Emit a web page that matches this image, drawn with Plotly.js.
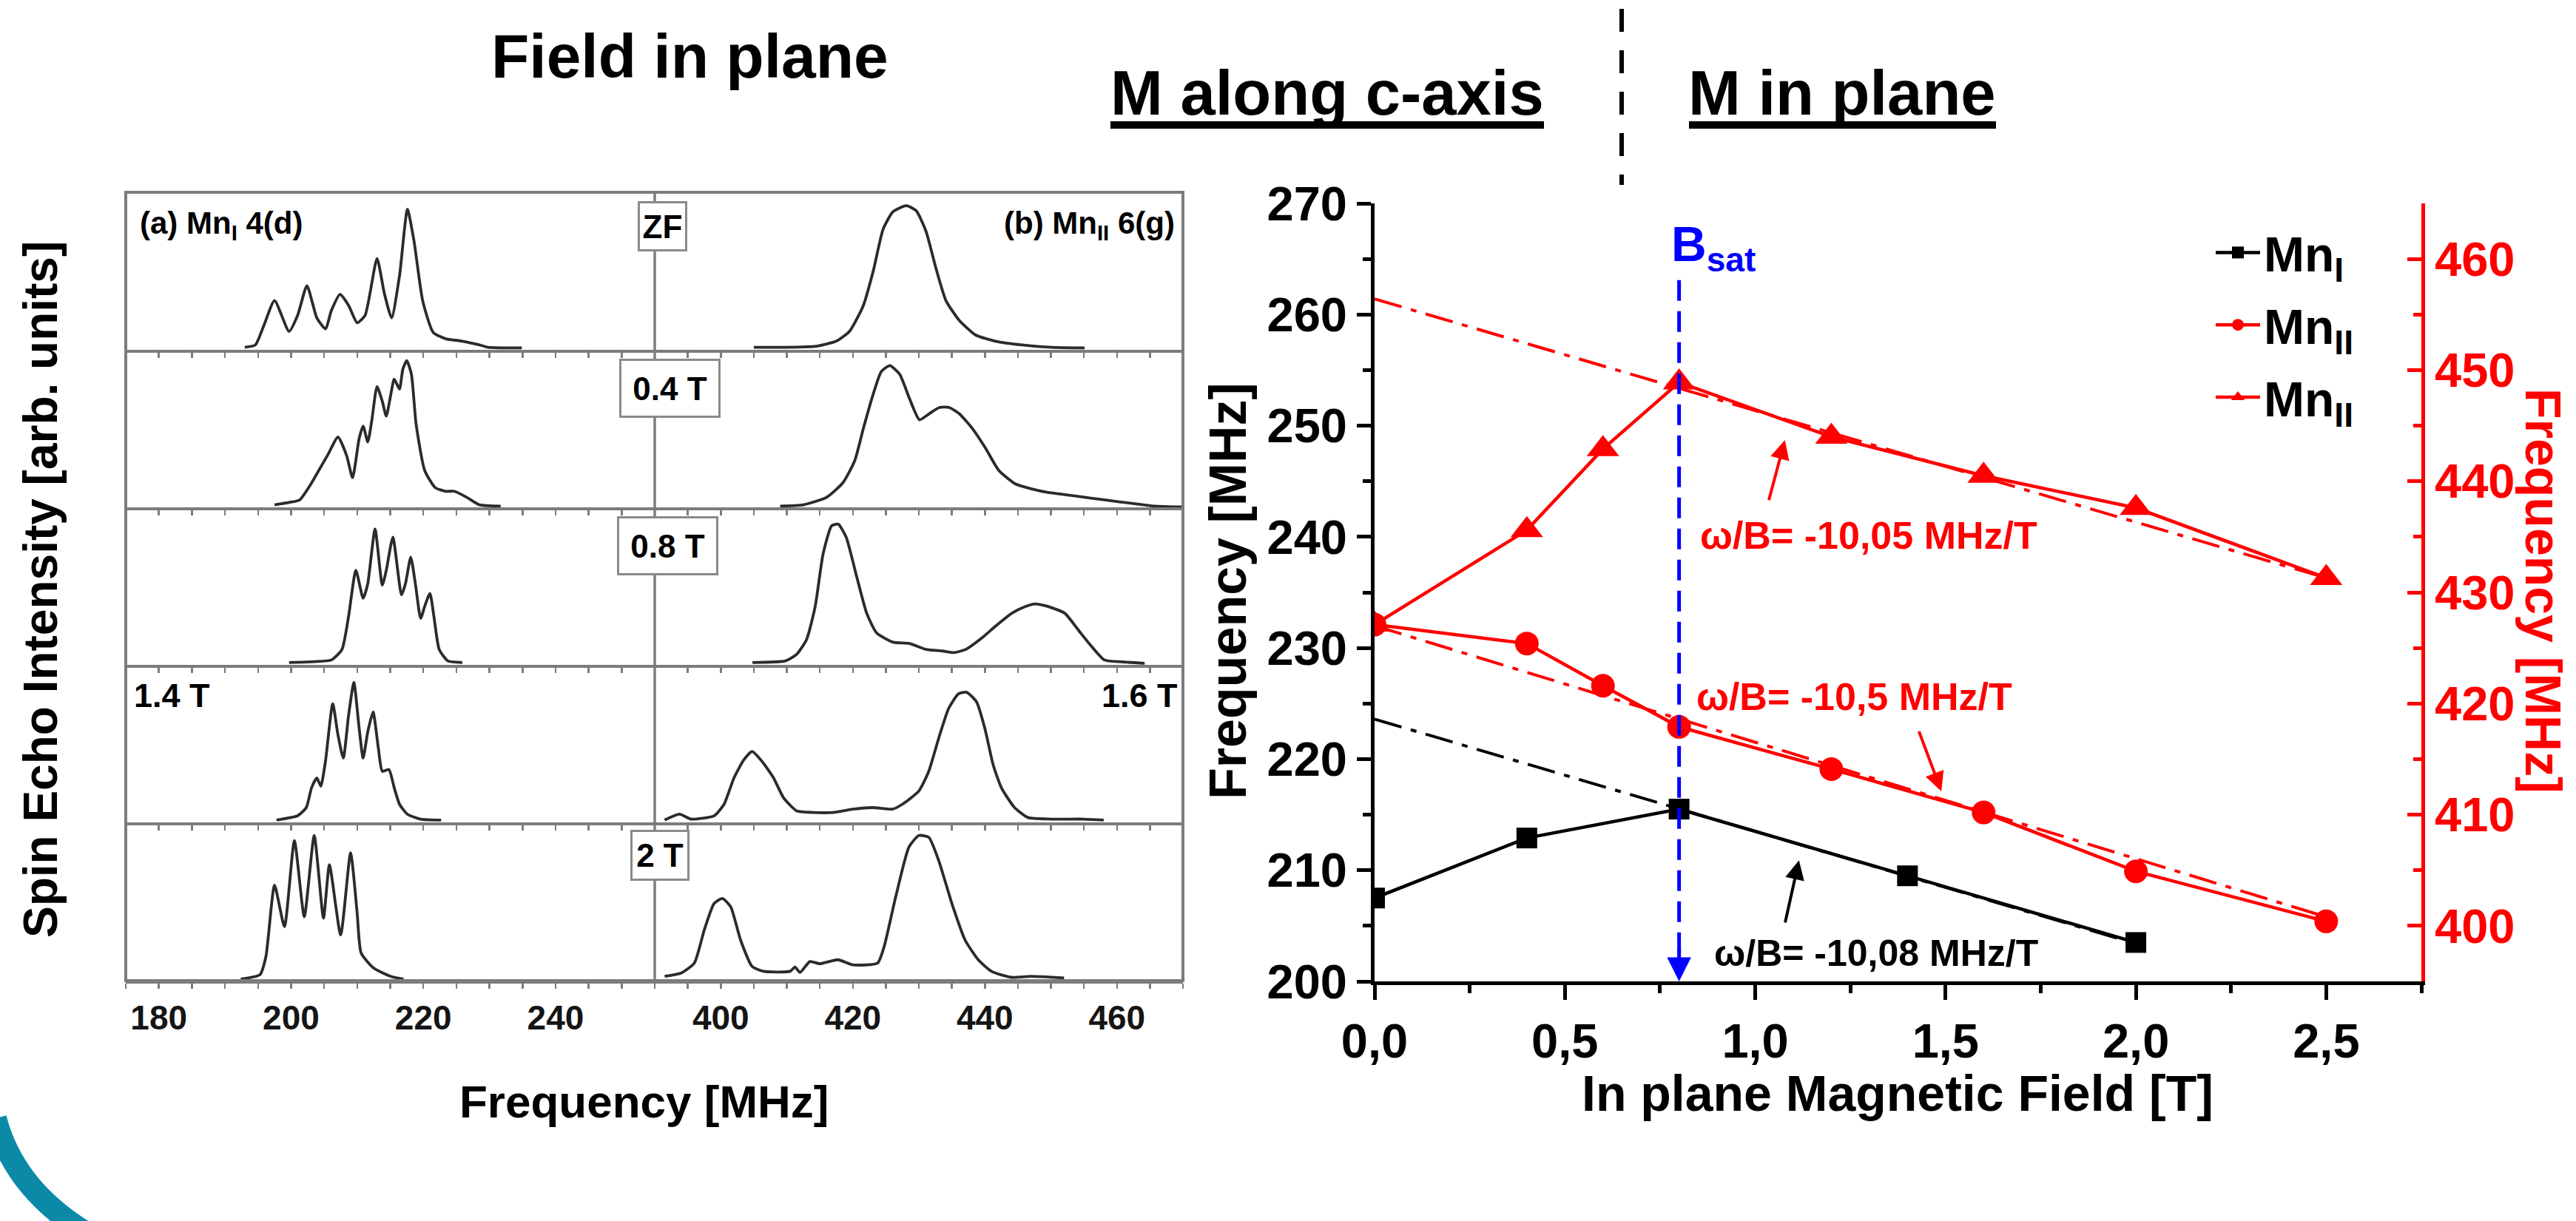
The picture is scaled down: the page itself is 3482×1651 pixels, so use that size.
<!DOCTYPE html>
<html><head><meta charset="utf-8">
<script src="https://cdn.plot.ly/plotly-3.0.1.min.js"></script>
<style>html,body{margin:0;padding:0;background:#fff;}#chart{width:3482px;height:1651px;}</style>
</head><body><div id="chart"></div>
<script>
// ================= DATA =================
// Left panel: spin-echo spectra, frequency [MHz] and intensity (normalised to row height)
const zfMnIFreq = [193.0,194.6,195.9,197.5,199.7,201.0,202.4,203.9,205.2,206.1,207.4,208.7,210.0,211.2,213.0,214.1,215.2,216.4,217.6,218.6,219.9,221.5,223.4,225.9,228.5,229.8,234.9];
const zfMnIInt  = [0.016,0.031,0.156,0.313,0.117,0.219,0.407,0.203,0.133,0.250,0.352,0.282,0.172,0.219,0.579,0.360,0.203,0.469,0.892,0.689,0.313,0.110,0.070,0.055,0.031,0.016,0.012];
const zfMnIIFreq = [405.0,409.5,414.5,417.5,419.5,421.6,423.1,424.6,426.1,428.1,429.6,431.1,432.6,434.1,436.1,438.6,441.6,445.6,450.1,455.1];
const zfMnIIInt  = [0.016,0.016,0.023,0.055,0.117,0.282,0.501,0.767,0.877,0.915,0.883,0.751,0.516,0.313,0.188,0.094,0.055,0.031,0.016,0.012];

const t04MnIFreq = [197.5,199.7,201.3,202.9,204.2,205.5,207.1,208.4,209.3,210.3,210.9,211.6,212.2,213.0,213.8,214.4,215.1,215.6,216.4,216.9,217.5,218.2,218.9,220.2,221.8,223.4,224.7,226.6,228.5,231.7];
const t04MnIInt  = [0.016,0.031,0.047,0.141,0.235,0.329,0.446,0.329,0.188,0.438,0.516,0.415,0.548,0.767,0.673,0.579,0.720,0.814,0.751,0.876,0.931,0.845,0.532,0.235,0.125,0.102,0.102,0.063,0.016,0.008];
const t04MnIIFreq = [409.0,412.5,416.0,418.5,420.3,421.6,423.1,424.3,425.6,427.1,428.6,430.1,431.6,433.1,434.6,436.1,438.1,440.1,442.1,444.6,447.1,449.6,454.1,458.1,462.7,465.7,470.0];
const t04MnIIInt  = [0.008,0.016,0.063,0.156,0.297,0.501,0.720,0.861,0.900,0.845,0.689,0.556,0.595,0.634,0.634,0.595,0.501,0.376,0.235,0.149,0.117,0.094,0.070,0.047,0.023,0.008,0.003];

const t08MnIFreq = [199.7,203.6,206.1,207.7,208.7,209.8,210.9,211.6,212.7,213.8,214.4,215.4,216.7,217.3,218.1,218.8,219.6,220.2,221.0,221.6,222.4,223.7,225.9];
const t08MnIInt  = [0.015,0.021,0.031,0.098,0.308,0.600,0.423,0.515,0.862,0.506,0.600,0.810,0.444,0.515,0.684,0.515,0.295,0.370,0.454,0.308,0.098,0.025,0.015];
const t08MnIIFreq = [404.8,409.8,411.5,413.0,414.3,415.5,416.8,417.8,419.0,420.6,422.1,423.6,426.1,428.6,431.1,433.6,435.3,437.1,439.6,441.6,444.1,446.1,447.6,449.6,452.1,454.1,455.9,458.1,460.7,464.2];
const t08MnIIInt  = [0.015,0.025,0.067,0.161,0.370,0.705,0.883,0.893,0.810,0.558,0.328,0.203,0.144,0.136,0.098,0.088,0.078,0.098,0.172,0.245,0.328,0.370,0.387,0.370,0.328,0.224,0.130,0.031,0.019,0.010];

const t14MnIFreq = [197.8,201.0,202.3,203.1,203.9,204.5,205.2,206.3,207.1,207.9,208.7,209.5,210.3,210.9,211.6,212.4,213.2,213.8,214.8,215.6,216.4,217.6,219.6,222.7];
const t14MnIInt  = [0.015,0.042,0.094,0.220,0.282,0.230,0.387,0.753,0.554,0.408,0.680,0.889,0.596,0.408,0.575,0.701,0.471,0.324,0.335,0.220,0.115,0.052,0.021,0.015];
const t16MnIIFreq = [391.5,393.75,395.5,399.0,400.5,402.0,403.5,404.75,406.25,408.0,409.5,411.5,414.0,417.0,420.0,423.0,426.0,427.5,430.0,431.5,433.0,434.5,436.0,437.25,438.75,440.0,441.25,442.5,444.5,446.5,450.0,455.0,458.0];
const t16MnIIInt  = [0.015,0.052,0.021,0.042,0.115,0.282,0.397,0.450,0.387,0.282,0.157,0.073,0.063,0.063,0.084,0.094,0.084,0.115,0.199,0.324,0.533,0.722,0.816,0.826,0.764,0.596,0.366,0.220,0.094,0.031,0.021,0.021,0.015];

const t20MnIFreq = [192.4,195.3,196.2,197.5,199.0,200.5,202.0,203.5,204.9,205.8,207.5,209.0,210.0,210.6,212.5,215.1,217.0];
const t20MnIInt  = [0.010,0.038,0.153,0.603,0.341,0.885,0.404,0.917,0.395,0.732,0.289,0.808,0.425,0.174,0.079,0.027,0.010];
const t20MnIIFreq = [391.5,394.0,396.0,397.5,399.0,400.25,401.5,403.0,404.75,406.5,410.5,411.25,412.0,413.5,415.0,417.75,420.0,423.75,424.75,426.5,428.5,430.0,431.5,433.0,435.0,437.0,439.0,441.0,444.0,447.0,452.0];
const t20MnIIInt  = [0.027,0.048,0.111,0.320,0.488,0.519,0.467,0.257,0.090,0.059,0.059,0.086,0.052,0.121,0.107,0.132,0.100,0.111,0.216,0.530,0.844,0.917,0.906,0.760,0.488,0.257,0.132,0.059,0.021,0.027,0.017];

const rowLabelsBoxed = ['ZF','0.4 T','0.8 T','2 T'];
const rowLabelLeft14 = '1.4 T', rowLabelRight16 = '1.6 T';
const leftTickVals = [180,200,220,240,400,420,440,460];

// Right panel: NMR frequency vs in-plane field
const fieldMnI  = [0, 0.4, 0.8, 1.4, 2.0];
const freqMnI   = [207.5, 212.9, 215.5, 209.5, 203.5];
const fieldMnIIa = [0, 0.4, 0.6, 0.8, 1.2, 1.6, 2.0, 2.5];
const freqMnIIa  = [427.1, 425.4, 421.6, 417.9, 414.1, 410.2, 404.9, 400.4];
const fieldMnIIb = [0, 0.4, 0.6, 0.8, 1.2, 1.6, 2.0, 2.5];
const freqMnIIb  = [427.1, 435.6, 442.9, 448.9, 444.0, 440.5, 437.6, 431.3];
// linear fits (dash-dot), end points
const fitMnIField = [0, 2.0],  fitMnIFreq = [223.6, 203.4];
const fitMnIIaField = [0, 2.5], fitMnIIaFreq = [427.0, 400.8];
const fitMnIIbField = [0, 2.5], fitMnIIbFreq = [456.4, 431.3];
const bSat = 0.8;
const slopeLabels = ['ω/B= -10,05 MHz/T','ω/B= -10,5 MHz/T','ω/B= -10,08 MHz/T'];

// ================= LAYOUT HELPERS =================
const W = 3482, H = 1651;
const px = v => v / W, py = v => 1 - v / H;
const FONT = 'Liberation Sans, Arial, sans-serif';
const RED = '#ff0000', BLUE = '#0000ff', GRAY = '#7c7c7c', SPEC = '#2b2b2b';

const rowTop = [260, 473, 686, 899, 1112];
const rowBot = [473, 686, 899, 1112, 1326];
const yIds = ['y','y2','y3','y4','y5'];
const yKeys = ['yaxis','yaxis2','yaxis3','yaxis4','yaxis5'];
// x-axis pair (left segment, right segment) for each row; bottom row carries the labels
const xPairs = [['x3','x4'],['x5','x6'],['x7','x8'],['x9','x10'],['x','x2']];
const axKey = id => 'xaxis' + id.slice(1);
const segL = [px(170), px(885)], segR = [px(885), px(1599)];
const rangeL = [175, 255], rangeR = [390, 470];

const spectra = [
  [zfMnIFreq, zfMnIInt, zfMnIIFreq, zfMnIIInt],
  [t04MnIFreq, t04MnIInt, t04MnIIFreq, t04MnIIInt],
  [t08MnIFreq, t08MnIInt, t08MnIIFreq, t08MnIIInt],
  [t14MnIFreq, t14MnIInt, t16MnIIFreq, t16MnIIInt],
  [t20MnIFreq, t20MnIInt, t20MnIIFreq, t20MnIIInt]
];

const traces = [];
spectra.forEach((s, r) => {
  traces.push({x: s[0], y: s[1], xaxis: xPairs[r][0], yaxis: yIds[r], mode: 'lines', showlegend: false,
    line: {color: SPEC, width: 3.8, shape: 'spline', smoothing: 0.55}, hoverinfo: 'skip'});
  traces.push({x: s[2], y: s[3], xaxis: xPairs[r][1], yaxis: yIds[r], mode: 'lines', showlegend: false,
    line: {color: SPEC, width: 3.8, shape: 'spline', smoothing: 0.55}, hoverinfo: 'skip'});
});

const DD = '38px,13px,8px,13px';
traces.push({x: fitMnIField, y: fitMnIFreq, xaxis: 'x11', yaxis: 'y6', mode: 'lines', showlegend: false,
  line: {color: '#000', width: 4, dash: DD}});
traces.push({x: fitMnIIaField, y: fitMnIIaFreq, xaxis: 'x11', yaxis: 'y7', mode: 'lines', showlegend: false,
  line: {color: RED, width: 4, dash: DD}});
traces.push({x: fitMnIIbField, y: fitMnIIbFreq, xaxis: 'x11', yaxis: 'y7', mode: 'lines', showlegend: false,
  line: {color: RED, width: 4, dash: DD}});
traces.push({x: fieldMnI, y: freqMnI, xaxis: 'x11', yaxis: 'y6', mode: 'lines+markers', name: 'Mn<sub>I</sub>',
  legendgroup: 'a', line: {color: '#000', width: 4.5}, marker: {symbol: 'square', size: 28, color: '#000'}});
traces.push({x: fieldMnIIa, y: freqMnIIa, xaxis: 'x11', yaxis: 'y7', mode: 'lines+markers', name: 'Mn<sub>II</sub>',
  legendgroup: 'b', line: {color: RED, width: 4.5}, marker: {symbol: 'circle', size: 32, color: RED}});
traces.push({x: fieldMnIIb, y: freqMnIIb, xaxis: 'x11', yaxis: 'y7', mode: 'lines+markers', name: 'Mn<sub>II</sub>',
  legendgroup: 'c', line: {color: RED, width: 4.5}, marker: {symbol: 'triangle-up', size: 38, color: RED}});

const layout = {
  width: W, height: H, margin: {l: 0, r: 0, t: 0, b: 0},
  paper_bgcolor: '#fff', plot_bgcolor: 'rgba(0,0,0,0)',
  separators: ',.', hovermode: false,
  font: {family: FONT, color: '#000'},
  showlegend: true,
  legend: {x: px(2990), y: py(292), xanchor: 'left', yanchor: 'top', bgcolor: 'rgba(0,0,0,0)',
    font: {family: FONT, size: 66, color: '#000', weight: 700}, itemwidth: 60, tracegroupgap: 9},
  shapes: [], annotations: []
};

// row y-axes
for (let r = 0; r < 5; r++) {
  layout[yKeys[r]] = {domain: [py(rowBot[r]), py(rowTop[r])], range: [0, 1], anchor: xPairs[r][0],
    showticklabels: false, showgrid: false, zeroline: false, showline: false, ticks: ''};
}
const leftTickFont = {family: FONT, size: 46, color: '#151515', weight: 700};
function segAxis(domain, range, anchor, labels) {
  return {domain: domain, range: range, anchor: anchor, showgrid: false, zeroline: false,
    showline: true, linecolor: GRAY, linewidth: 4, ticks: 'outside', ticklen: 7, tickwidth: 2.5, tickcolor: GRAY,
    tickmode: 'array', tickvals: leftTickVals, showticklabels: labels, tickfont: leftTickFont,
    minor: {dtick: 5, tick0: 0, ticks: 'outside', ticklen: 7, tickwidth: 2.5, tickcolor: GRAY}};
}
for (let r = 0; r < 5; r++) {
  layout[axKey(xPairs[r][0])] = segAxis(segL, rangeL, yIds[r], r === 4);
  layout[axKey(xPairs[r][1])] = segAxis(segR, rangeR, yIds[r], r === 4);
}

// right plot axes
const tickFontR = {family: FONT, size: 65, color: '#000', weight: 700};
layout.xaxis11 = {domain: [px(1858), px(3273)], range: [0, 2.75], anchor: 'y6', dtick: 0.5, tick0: 0, tickformat: '.1f',
  showline: true, linecolor: '#000', linewidth: 5, ticks: 'outside', ticklen: 20, tickwidth: 5, tickcolor: '#000',
  minor: {dtick: 0.25, tick0: 0, ticks: 'outside', ticklen: 11, tickwidth: 5, tickcolor: '#000'},
  tickfont: tickFontR, showgrid: false, zeroline: false};
layout.xaxis12 = {overlaying: 'x11', side: 'top', anchor: 'y6', range: [0, 2.75], dtick: 0.5, tick0: 0,
  showline: true, linecolor: '#000', linewidth: 5, ticks: 'inside', ticklen: 20, tickwidth: 5, tickcolor: '#000',
  minor: {dtick: 0.25, tick0: 0, ticks: 'inside', ticklen: 11, tickwidth: 5, tickcolor: '#000'},
  showticklabels: false, showgrid: false, zeroline: false};
layout.yaxis6 = {domain: [py(1327), py(275)], range: [200, 270], anchor: 'x11', dtick: 10, tick0: 0,
  showline: true, linecolor: '#000', linewidth: 5, ticks: 'outside', ticklen: 19, tickwidth: 5, tickcolor: '#000',
  minor: {dtick: 5, tick0: 0, ticks: 'outside', ticklen: 11, tickwidth: 5, tickcolor: '#000'},
  tickfont: tickFontR, showgrid: false, zeroline: false};
layout.yaxis7 = {overlaying: 'y6', side: 'right', anchor: 'x11', range: [395, 465], dtick: 10, tick0: 0,
  showline: true, linecolor: RED, linewidth: 5, ticks: 'inside', ticklen: 19, tickwidth: 5, tickcolor: RED,
  minor: {dtick: 5, tick0: 0, ticks: 'inside', ticklen: 11, tickwidth: 5, tickcolor: RED},
  tickfont: {family: FONT, size: 65, color: RED, weight: 700}, showgrid: false, zeroline: false};

// ---------- shapes ----------
const S = layout.shapes;
S.push({type: 'rect', xref: 'paper', yref: 'paper', x0: px(170), x1: px(1599), y0: py(1326), y1: py(260),
  line: {color: GRAY, width: 4}, fillcolor: 'rgba(0,0,0,0)'});
S.push({type: 'line', xref: 'paper', yref: 'paper', x0: px(885), x1: px(885), y0: py(1326), y1: py(260),
  line: {color: GRAY, width: 3.5}});
S.push({type: 'rect', xref: 'paper', yref: 'paper', x0: px(1501), x1: px(2087), y0: py(174), y1: py(164),
  line: {width: 0}, fillcolor: '#000'});
S.push({type: 'rect', xref: 'paper', yref: 'paper', x0: px(2283), x1: px(2698), y0: py(174), y1: py(164),
  line: {width: 0}, fillcolor: '#000'});
S.push({type: 'line', xref: 'paper', yref: 'paper', x0: px(2192), x1: px(2192), y0: py(12), y1: py(250),
  line: {color: '#000', width: 6, dash: '31px,25px'}});
S.push({type: 'line', xref: 'x11', yref: 'y6', x0: bSat, x1: bSat, y0: 263.1, y1: 201.2,
  line: {color: BLUE, width: 5, dash: '28px,14px'}});
// decorative teal arc bottom-left
S.push({type: 'path', xref: 'paper', yref: 'paper',
  path: `M ${px(-6)},${py(1512)} Q ${px(18)},${py(1605)} ${px(112)},${py(1664)}`,
  line: {color: '#0b8aa8', width: 30}, fillcolor: 'rgba(0,0,0,0)'});

// ---------- annotations ----------
const A = layout.annotations;
function txt(x, y, text, size, opts) {
  return Object.assign({xref: 'paper', yref: 'paper', x: px(x), y: py(y), text: text, showarrow: false,
    xanchor: 'center', yanchor: 'middle', font: {family: FONT, size: size, color: '#000', weight: 700}}, opts || {});
}
A.push(txt(932, 76, 'Field in plane', 84));
A.push(txt(1794, 125, 'M along c-axis', 85));
A.push(txt(2490, 125, 'M in plane', 85));
// left panel
A.push(txt(55, 797, 'Spin Echo Intensity [arb. units]', 64, {textangle: -90}));
A.push(txt(870, 1489, 'Frequency [MHz]', 62));
A.push(txt(187, 305, '(a) Mn<sub>I</sub> 4(d)', 42, {xanchor: 'left'}));
A.push(txt(1590, 305, '(b) Mn<sub>II</sub> 6(g)', 42, {xanchor: 'right'}));
A.push(txt(179, 940, rowLabelLeft14, 45, {xanchor: 'left'}));
A.push(txt(1594, 940, rowLabelRight16, 45, {xanchor: 'right'}));
const boxes = [[895, 306, 67, 68], [905, 525, 137, 80], [903, 738, 137, 80], [892, 1156, 80, 69]];
boxes.forEach((b, i) => {
  A.push(txt(b[0], b[1], rowLabelsBoxed[i], 44, {bgcolor: '#fff', bordercolor: '#8a8a8a', borderwidth: 3,
    borderpad: 0, width: b[2] - 6, height: b[3] - 6}));
});
// right panel titles
A.push(txt(1660, 799, 'Frequency [MHz]', 70, {textangle: -90}));
A.push(txt(3438, 799, 'Frequency [MHz]', 68, {textangle: 90, font: {family: FONT, size: 68, color: RED, weight: 700}}));
A.push(txt(2565, 1478, 'In plane Magnetic Field [T]', 68));
A.push({xref: 'x11', yref: 'y6', x: 0.775, y: 266.0, xanchor: 'left', yanchor: 'middle', showarrow: false,
  text: 'B<sub>sat</sub>', font: {family: FONT, size: 66, color: BLUE, weight: 700}});
// slope labels
A.push({xref: 'x11', yref: 'y6', x: 1.299, y: 240.1, text: slopeLabels[0], showarrow: false,
  font: {family: FONT, size: 52, color: RED, weight: 700}});
A.push({xref: 'x11', yref: 'y6', x: 1.260, y: 225.6, text: slopeLabels[1], showarrow: false,
  font: {family: FONT, size: 52, color: RED, weight: 700}});
A.push({xref: 'x11', yref: 'y6', x: 1.318, y: 202.5, text: slopeLabels[2], showarrow: false,
  font: {family: FONT, size: 50, color: '#000', weight: 700}});
// arrows
function arrow(x, y, ax, ay, yref, color, w) {
  return {xref: 'x11', yref: yref, axref: 'x11', ayref: yref, x: x, y: y, ax: ax, ay: ay, text: '',
    showarrow: true, arrowhead: 2, arrowsize: 1.3, arrowwidth: w, arrowcolor: color};
}
A.push(arrow(1.078, 443.7, 1.035, 438.2, 'y7', RED, 4));
A.push(arrow(1.489, 412.1, 1.429, 417.6, 'y7', RED, 4));
A.push(arrow(1.115, 210.9, 1.078, 205.2, 'y6', '#000', 4));
A.push(arrow(bSat, 200, bSat, 203, 'y6', BLUE, 5));

Plotly.newPlot('chart', traces, layout, {staticPlot: true, displayModeBar: false});
</script></body></html>
